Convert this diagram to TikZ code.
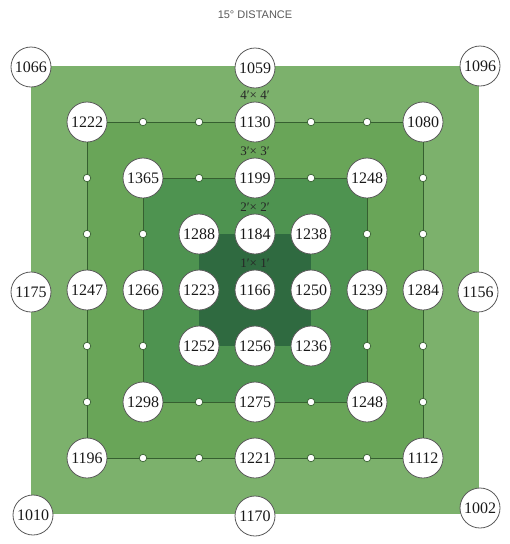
\documentclass[tikz,border=0pt]{standalone}
\usepackage{fontspec}
\setmainfont{Liberation Serif}
\newfontfamily\titlefont{Liberation Sans}
\definecolor{gOuter}{HTML}{7CB16C}
\definecolor{gFour}{HTML}{69A558}
\definecolor{gThree}{HTML}{4E9350}
\definecolor{gTwo}{HTML}{2F6A40}
\definecolor{gLine}{HTML}{365F30}
\definecolor{cBorder}{HTML}{5A5A5A}
\tikzset{
  val/.style={circle, fill=white, draw=cBorder, line width=0.8pt, minimum size=40pt, inner sep=0pt,
              font=\fontsize{16}{16}\selectfont, text=black!90},
  dotnode/.style={circle, fill=white, draw=gLine, line width=0.7pt, minimum size=7.5pt, inner sep=0pt},
  ringline/.style={draw=gLine, line width=1pt},
  sizelabel/.style={font=\fontsize{13}{13}\selectfont, text=black!85, inner sep=1pt},
}
\begin{document}
\begin{tikzpicture}[x=1pt,y=-1pt]
\useasboundingbox (0,0) rectangle (510,544);
% shaded squares
\fill[gOuter] (31,66) rectangle (479,514);
\fill[gFour] (87,122) rectangle (423,458);
\fill[gThree] (143,178) rectangle (367,402);
\fill[gTwo] (199,234) rectangle (311,346);
% title
\node[font=\titlefont\fontsize{11}{11}\selectfont, text=black!65] (title) at (255,15) {15° DISTANCE};
% size labels
\node[sizelabel] (l4) at (255,95) {4′× 4′};
\node[sizelabel] (l3) at (255,151) {3′× 3′};
\node[sizelabel] (l2) at (255,207) {2′× 2′};
\node[sizelabel] (l1) at (255,263) {1′× 1′};
% grid values
\foreach \i/\j/\v in {-3/-3/1222, 0/-3/1130, 3/-3/1080, 3/0/1284, 3/3/1112, 0/3/1221, -3/3/1196, -3/0/1247,
  -2/-2/1365, 0/-2/1199, 2/-2/1248, 2/0/1239, 2/2/1248, 0/2/1275, -2/2/1298, -2/0/1266,
  -1/-1/1288, 0/-1/1184, 1/-1/1238, -1/0/1223, 0/0/1166, 1/0/1250, -1/1/1252, 0/1/1256, 1/1/1236}
  \node[val] (g\i\j) at ({255+56*\i},{290+56*\j}) {\v};
% small dots
\foreach \i/\j in {-2/-3, -1/-3, 1/-3, 2/-3, 3/-2, 3/-1, 3/1, 3/2, 2/3, 1/3, -1/3, -2/3, -3/2, -3/1, -3/-1, -3/-2,
  -1/-2, 1/-2, 2/-1, 2/1, 1/2, -1/2, -2/1, -2/-1}
  \node[dotnode] (g\i\j) at ({255+56*\i},{290+56*\j}) {};
% ring lines
\draw[ringline] (g-3-3) -- (g-2-3) -- (g-1-3) -- (g0-3) -- (g1-3) -- (g2-3) -- (g3-3)
  -- (g3-2) -- (g3-1) -- (g30) -- (g31) -- (g32) -- (g33)
  -- (g23) -- (g13) -- (g03) -- (g-13) -- (g-23) -- (g-33)
  -- (g-32) -- (g-31) -- (g-30) -- (g-3-1) -- (g-3-2) -- (g-3-3);
\draw[ringline] (g-2-2) -- (g-1-2) -- (g0-2) -- (g1-2) -- (g2-2)
  -- (g2-1) -- (g20) -- (g21) -- (g22)
  -- (g12) -- (g02) -- (g-12) -- (g-22)
  -- (g-21) -- (g-20) -- (g-2-1) -- (g-2-2);
% outer values
\node[val] (c1066) at (31,67) {1066};
\node[val] (c1059) at (255,68) {1059};
\node[val] (c1096) at (480,66) {1096};
\node[val] (c1175) at (31,292) {1175};
\node[val] (c1156) at (478,292) {1156};
\node[val] (c1010) at (33,515) {1010};
\node[val] (c1170) at (255,516) {1170};
\node[val] (c1002) at (480,508) {1002};
\end{tikzpicture}
\end{document}
